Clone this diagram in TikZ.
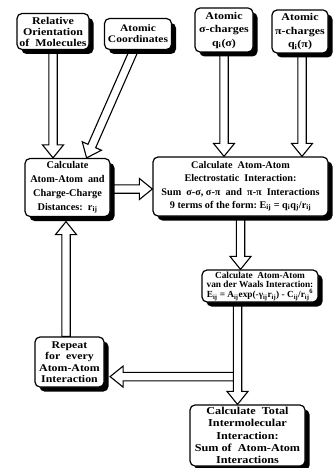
\documentclass[tikz,border=0pt]{standalone}
\usepackage{fontspec}
\setmainfont{Liberation Serif}
\newfontfamily\wfont{Liberation Serif}[FakeStretch=1.15]
\usetikzlibrary{calc,shadows}
\pgfdeclarelayer{background}
\pgfsetlayers{background,main}
\def\arrs{4.2pt}
\def\arrw{10.5pt}
\def\arrhl{13pt}
\tikzset{
  box/.style={draw, line width=1.2pt, rounded corners=5pt, fill=white, align=center,
    inner sep=0pt, font=\bfseries\fontsize{10}{13}\selectfont,
    drop shadow={shadow xshift=4.5pt, shadow yshift=-4.5pt, fill=black, opacity=1}},
  hol/.style={draw, line width=1.1pt, fill=white, line join=miter},
}
\newcommand\hollow[2]{%
  \coordinate (hA) at (#1);
  \coordinate (hB) at (#2);
  \coordinate (hH) at ($(hB)!\arrhl!(hA)$);
  \draw[hol] ($(hA)!\arrs!-90:(hB)$) -- ($(hH)!\arrs!90:(hA)$) -- ($(hH)!\arrw!90:(hA)$) -- (hB)
    -- ($(hH)!\arrw!-90:(hA)$) -- ($(hH)!\arrs!-90:(hA)$) -- ($(hA)!\arrs!90:(hB)$) -- cycle;}
\begin{document}
\begin{tikzpicture}[x=1pt,y=-1pt]
\useasboundingbox (0,0) rectangle (333,468);
\node[box, minimum width=72pt, minimum height=36pt, font=\wfont\bfseries\fontsize{10.4}{11}\selectfont] (rel) at (53,31.5)
  {Relative\\Orientation\\of~~Molecules};
\node[box, minimum width=67pt, minimum height=31pt, font=\wfont\bfseries\fontsize{10}{11}\selectfont] (coord) at (138,34)
  {Atomic\\Coordinates};
\node[box, minimum width=58pt, minimum height=44pt, font=\wfont\bfseries\fontsize{10.4}{13.5}\selectfont] (sig) at (224,30)
  {Atomic\\σ-charges\\q\textsubscript{i}(σ)};
\node[box, minimum width=56pt, minimum height=43pt, font=\wfont\bfseries\fontsize{10.4}{13.5}\selectfont] (pi) at (300,31.5)
  {Atomic\\π-charges\\q\textsubscript{i}(π)};
\node[box, minimum width=85pt, minimum height=58pt, font=\bfseries\fontsize{10.3}{13.8}\selectfont] (dist) at (67.5,187.5)
  {Calculate\\Atom-Atom~~and\\Charge-Charge\\Distances:~~r\textsubscript{ij}};
\node[box, minimum width=175pt, minimum height=59pt, font=\bfseries\fontsize{10.2}{13.3}\selectfont] (elec) at (240.5,186.5)
  {Calculate~~Atom-Atom\\Electrostatic~~Interaction:\\Sum~~σ-σ,~σ-π~~and~~π-π~~Interactions\\9~terms~of~the~form:~E\textsubscript{ij}~=~q\textsubscript{i}q\textsubscript{j}/r\textsubscript{ij}};
\node[box, minimum width=116pt, minimum height=32pt, font=\bfseries\fontsize{9.3}{9.8}\selectfont] (vdw) at (260,286)
  {Calculate~~Atom-Atom\\van~der~Waals~Interaction:\\E\textsubscript{ij}~=~A\textsubscript{ij}exp(-γ\textsubscript{ij}r\textsubscript{ij})~-~C\textsubscript{ij}/r\textsubscript{ij}\textsuperscript{6}};
\node[box, minimum width=69pt, minimum height=50pt, font=\wfont\bfseries\fontsize{10.3}{11.5}\selectfont] (rep) at (69.5,362)
  {Repeat\\for~~every\\Atom-Atom\\Interaction};
\node[box, minimum width=115pt, minimum height=61pt, font=\wfont\bfseries\fontsize{10.6}{12.3}\selectfont] (tot) at (247.5,435.5)
  {Calculate~~Total\\Intermolecular\\Interaction:\\Sum~of~~Atom-Atom\\Interactions};
\coordinate (ctop) at ($(coord.south)+(-4,0)$);
\coordinate (ctip) at ($(dist.north east)+(-24,0)$);
\coordinate (ptop) at ($(pi.south)+(2,0)$);
\coordinate (dstart) at ($(dist.east)+(0,1.5)$);
\coordinate (gtop) at ($(vdw.south)+(-22.5,0)$);
\coordinate (hstart) at ($(gtop)+(-4.2,74)$);
\coordinate (htip) at ($(rep.east)+(5.5,0)$);
\coordinate (itip) at ($(dist.south)+(-1.5,4.5)$);
\begin{pgfonlayer}{background}
\fill[white] (0,0) rectangle (333,468);
\hollow{rel.south}{rel.south |- dist.north}
\hollow{ctop}{ctip}
\hollow{sig.south}{sig.south |- elec.north}
\hollow{ptop}{ptop |- elec.north}
\hollow{dstart}{dstart -| elec.west}
\hollow{elec.south}{elec.south |- vdw.north}
\hollow{gtop}{gtop |- tot.north}
\hollow{hstart}{hstart -| htip}
\hollow{rep.north -| itip}{itip}
\end{pgfonlayer}
\end{tikzpicture}
\end{document}
